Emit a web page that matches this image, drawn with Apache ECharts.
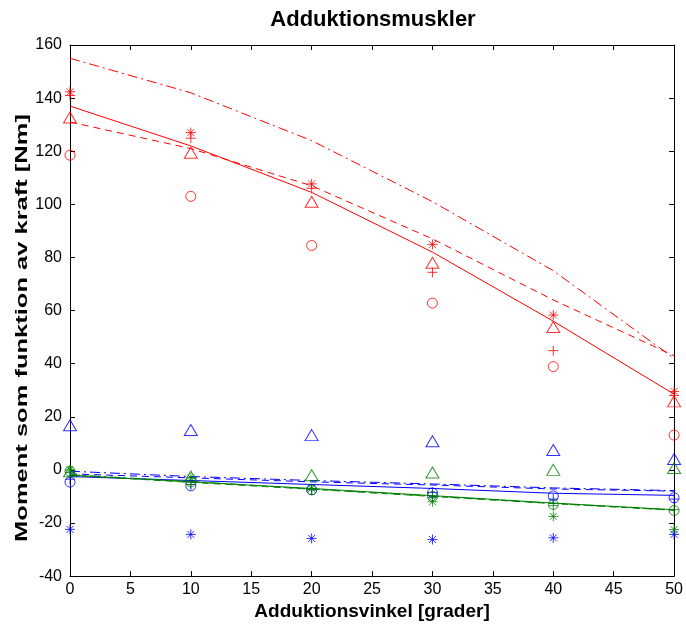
<!DOCTYPE html>
<html>
<head>
<meta charset="utf-8">
<script src="https://cdn.jsdelivr.net/npm/echarts@6/dist/echarts.min.js"></script>
<style>
  html, body { margin: 0; padding: 0; background: #fff; }
  #chart { width: 686px; height: 626px; }
</style>
</head>
<body>
<div id="chart"></div>
<script>
// vinklar (x)
var vinklar = [0, 10, 20, 30, 40, 50];

// röd
var rodStjarna = [142.4, 127, 107.7, 84.9, 58.3, 29.5];
var rodPlus = [141, 124.9, 106, 74.4, 44.9, 28];
var rodTriangel = [132.7, 119.4, 101, 78, 53.8, 25.8];
var rodCirkel = [118.5, 103, 84.5, 62.8, 38.9, 13.1];
var rodHel = [137, 122, 104.5, 82, 56, 28.5];
var rodStreck = [131, 121, 107, 87, 64, 43];
var rodStreckPunkt = [155, 142, 124, 101, 75, 42];

// blå
var blaStjarna = [-22.4, -24.3, -25.8, -26.2, -25.6, -24.3];
var blaPlus = [-3.5, -5.5, -7.5, -8.5, -11, -11];
var blaTriangel = [16.8, 15, 13.1, 10.8, 7.5, 4.1];
var blaCirkel = [-4.6, -6, -7.5, -8.7, -9.8, -10.5];
var blaHel = [-2.5, -4, -5.5, -7, -8.8, -9.6];
var blaStreck = [-1.5, -3, -4.5, -5.7, -7.2, -8];
var blaStreckPunkt = [-0.5, -2.5, -4, -5.3, -6.8, -7.8];

// grön
var gronStjarna = [0, -3, -7, -12, -17.5, -22.5];
var gronPlus = [-1, -5.5, -7.5, -10.5, -13.5, -15];
var gronTriangel = [-0.5, -2.5, -2, -1, 0, 0.7];
var gronCirkel = [-0.5, -4.5, -7.5, -10, -13, -15.3];
var gronHel = [-2, -4.5, -7, -9.7, -12.5, -15];
var gronStreck = [-2, -4.7, -7.3, -10, -12.7, -15.2];
var gronStreckPunkt = [-1.8, -4.4, -7.2, -9.9, -12.6, -15.1];

var yTicks = [-40, 160, 20];
var xTicks = [0, 50, 5];

// symboler
var plusPath = 'path://M5 0L5 10M0 5L10 5';
var stjarnPath = 'path://M5 0L5 10M0 5L10 5M1.5 1.5L8.5 8.5M8.5 1.5L1.5 8.5';

var par = function (y) {
    return vinklar.map(function (x, i) { return [x, y[i]]; });
};

var markor = function (y, farg, symbol, size) {
    return {
        type: 'scatter',
        data: par(y),
        symbol: symbol,
        symbolSize: size,
        itemStyle: { color: 'rgba(0,0,0,0)', borderColor: farg, borderWidth: 1 },
        z: 3,
        silent: true
    };
};

var linje = function (y, farg, typ) {
    return {
        type: 'line',
        data: par(y),
        symbol: 'none',
        lineStyle: { color: farg, width: 1, type: typ },
        z: 2,
        silent: true
    };
};

var serier = [];
var grupper = [
    ['#ff0000', rodStjarna, rodPlus, rodTriangel, rodCirkel, rodHel, rodStreck, rodStreckPunkt],
    ['#0000ff', blaStjarna, blaPlus, blaTriangel, blaCirkel, blaHel, blaStreck, blaStreckPunkt],
    ['#008000', gronStjarna, gronPlus, gronTriangel, gronCirkel, gronHel, gronStreck, gronStreckPunkt]
];
grupper.forEach(function (g) {
    var c = g[0];
    serier.push(linje(g[5], c, 'solid'));
    serier.push(linje(g[6], c, [7, 5]));
    serier.push(linje(g[7], c, [10, 4, 2, 4]));
    serier.push(markor(g[1], c, stjarnPath, 10));
    serier.push(markor(g[2], c, plusPath, 10));
    serier.push(markor(g[3], c, 'triangle', [13, 11]));
    serier.push(markor(g[4], c, 'circle', 10));
});

var axelBas = {
    axisLine: { show: true, onZero: false, lineStyle: { color: '#000', width: 1 } },
    axisTick: { show: true, inside: true, length: 5, lineStyle: { color: '#000' } },
    splitLine: { show: false }
};

var chart = echarts.init(document.getElementById('chart'));
chart.setOption({
    animation: false,
    backgroundColor: '#fff',
    textStyle: { fontFamily: 'Liberation Sans' },
    grid: { left: 70, right: 9, top: 45, bottom: 46 },
    graphic: [{
        type: 'text',
        x: 373, y: 20,
        style: {
            text: 'Adduktionsmuskler',
            font: 'bold 22px "Liberation Sans"',
            fill: '#000',
            align: 'center', verticalAlign: 'middle',
            textAlign: 'center', textVerticalAlign: 'middle'
        }
    }, {
        type: 'text',
        x: 22, y: 328,
        rotation: Math.PI / 2,
        scaleX: 1.5,
        style: {
            text: 'Moment som funktion av kraft [Nm]',
            font: 'bold 17px "Liberation Sans"',
            fill: '#000',
            align: 'center', verticalAlign: 'middle',
            textAlign: 'center', textVerticalAlign: 'middle'
        }
    }],
    xAxis: [
        Object.assign({
            type: 'value', min: xTicks[0], max: xTicks[1], interval: xTicks[2],
            position: 'bottom',
            name: 'Adduktionsvinkel [grader]', nameLocation: 'middle', nameGap: 17,
            nameTextStyle: { fontFamily: 'Liberation Sans', fontWeight: 'bold', fontSize: 19, color: '#000' },
            axisLabel: { color: '#000', fontSize: 16, margin: 5, fontFamily: 'Liberation Sans' }
        }, axelBas),
        Object.assign({
            type: 'value', min: xTicks[0], max: xTicks[1], interval: xTicks[2],
            position: 'top', axisLabel: { show: false }
        }, axelBas)
    ],
    yAxis: [
        Object.assign({
            type: 'value', min: yTicks[0], max: yTicks[1], interval: yTicks[2],
            position: 'left',
            axisLabel: { color: '#000', fontSize: 16, margin: 8, fontFamily: 'Liberation Sans' }
        }, axelBas),
        Object.assign({
            type: 'value', min: yTicks[0], max: yTicks[1], interval: yTicks[2],
            position: 'right', axisLabel: { show: false }
        }, axelBas)
    ],
    series: serier
});
</script>
</body>
</html>
